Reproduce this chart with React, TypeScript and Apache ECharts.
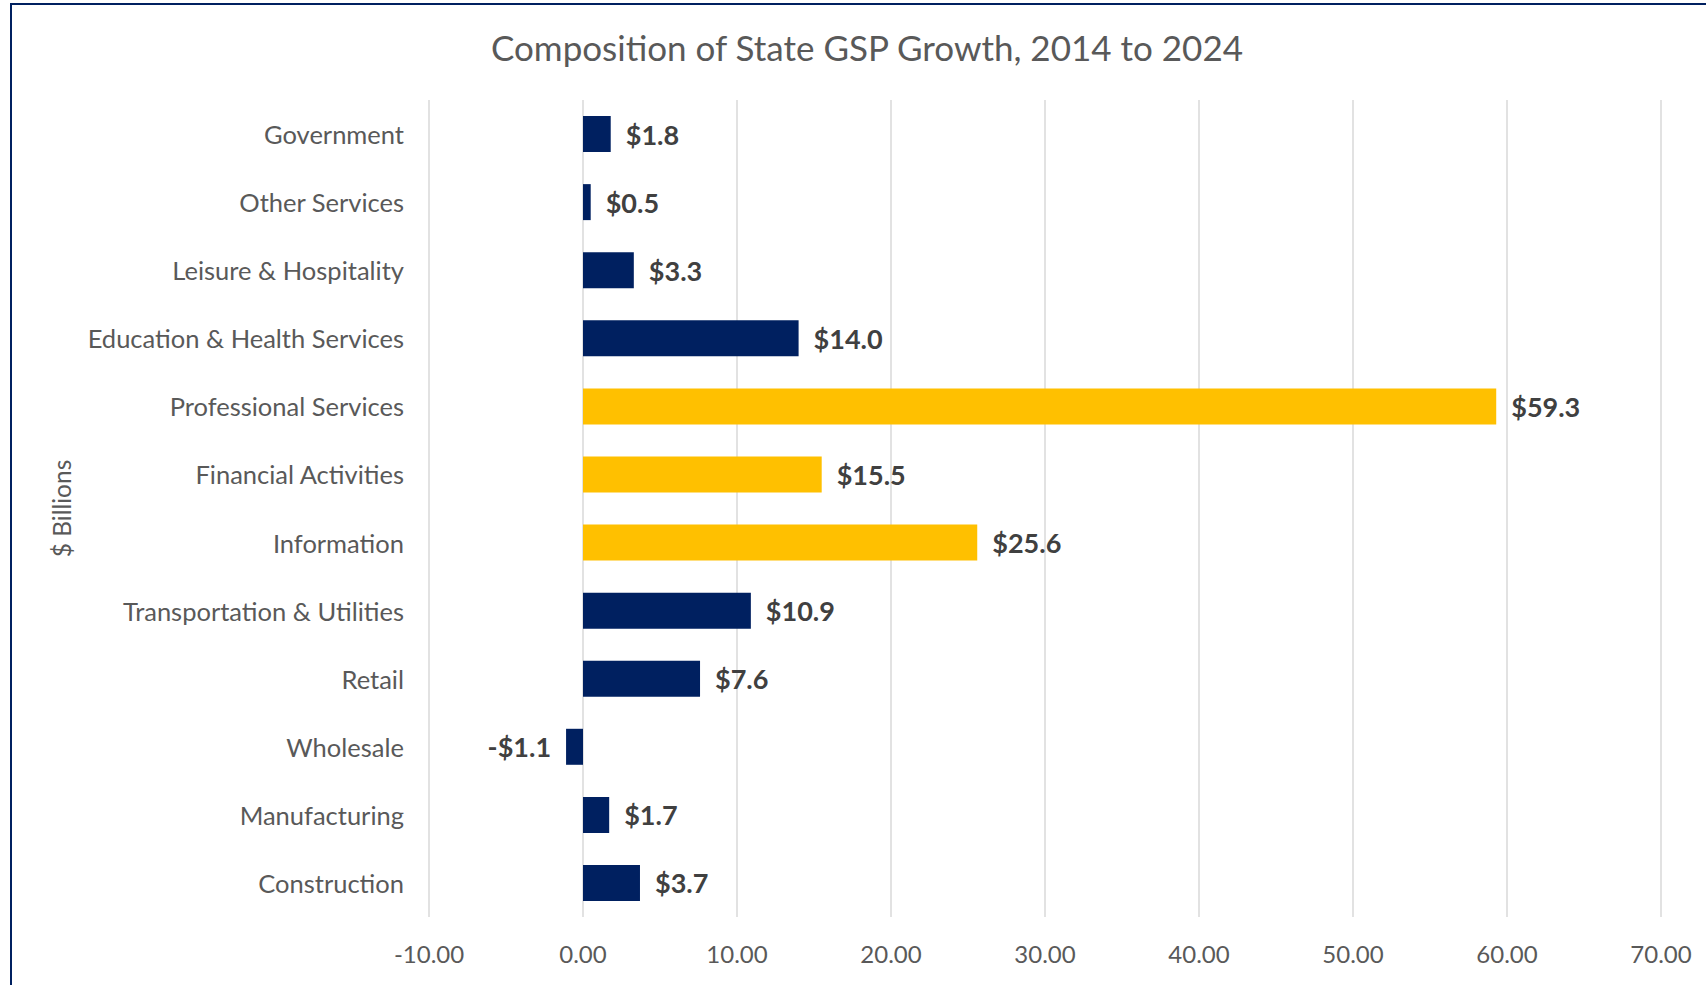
import React, { useEffect, useRef } from "react";
import * as echarts from "echarts";

const categories = [
  "Government",
  "Other Services",
  "Leisure & Hospitality",
  "Education & Health Services",
  "Professional Services",
  "Financial Activities",
  "Information",
  "Transportation & Utilities",
  "Retail",
  "Wholesale",
  "Manufacturing",
  "Construction",
];
const values = [1.8, 0.5, 3.3, 14.0, 59.3, 15.5, 25.6, 10.9, 7.6, -1.1, 1.7, 3.7];
const highlighted = ["Professional Services", "Financial Activities", "Information"];
const xTicks = { min: -10, max: 70, interval: 10 };
const titleText = "Composition of State GSP Growth, 2014 to 2024";
const yAxisName = "$ Billions";

const NAVY = "#002060";
const GOLD = "#FFC000";
const FONT = "Lato, 'Noto Sans', sans-serif";

export default function App() {
  const ref = useRef<HTMLDivElement>(null);
  useEffect(() => {
    if (!ref.current) return;
    const chart = echarts.init(ref.current, null, { renderer: "svg" });
    const data = values.map((v, i) => ({
      value: v,
      itemStyle: { color: highlighted.includes(categories[i]) ? GOLD : NAVY },
      label: { position: v < 0 ? "left" : "right" },
    }));
    chart.setOption({
      animation: false,
      backgroundColor: "#ffffff",
      textStyle: { fontFamily: FONT },
      graphic: [
        {
          type: "rect",
          shape: { x: 11, y: 4, width: 1720, height: 1000 },
          style: { fill: "none", stroke: NAVY, lineWidth: 2 },
          silent: true,
        },
        {
          type: "text",
          x: 867,
          y: 47,
          style: {
            text: titleText,
            align: "center",
            verticalAlign: "middle",
            fontSize: 35,
            fontFamily: FONT,
            fill: "#595959",
          },
        },
      ],
      grid: { left: 429, right: 45, top: 100, bottom: 68, containLabel: false },
      xAxis: {
        type: "value",
        min: xTicks.min,
        max: xTicks.max,
        interval: xTicks.interval,
        axisLine: { show: false },
        axisTick: { show: false },
        splitLine: { show: true, lineStyle: { color: "#d9d9d9", width: 1.5 } },
        axisLabel: {
          color: "#595959",
          fontSize: 24,
          fontFamily: FONT,
          margin: 24,
          formatter: (v: number) => v.toFixed(2),
        },
      },
      yAxis: {
        type: "category",
        data: categories,
        inverse: true,
        axisLine: { show: false, onZero: false },
        axisTick: { show: false },
        splitLine: { show: false },
        axisLabel: { color: "#595959", fontSize: 25.5, fontFamily: FONT, margin: 25 },
        name: yAxisName,
        nameLocation: "middle",
        nameRotate: 90,
        nameGap: 355,
        nameTextStyle: { color: "#595959", fontSize: 24.5, fontFamily: FONT },
      },
      series: [
        {
          type: "bar",
          data,
          barWidth: 36,
          label: {
            show: true,
            distance: 15,
            fontSize: 27,
            fontWeight: "bold",
            fontFamily: FONT,
            color: "#404040",
            formatter: (p: any) => {
              const v = p.value as number;
              return (v < 0 ? "-$" : "$") + Math.abs(v).toFixed(1);
            },
          },
        },
      ],
    });
    return () => chart.dispose();
  }, []);
  return (
    <div
      ref={ref}
      style={{ position: "fixed", left: 0, top: 0, width: 1706, height: 985 }}
    />
  );
}
